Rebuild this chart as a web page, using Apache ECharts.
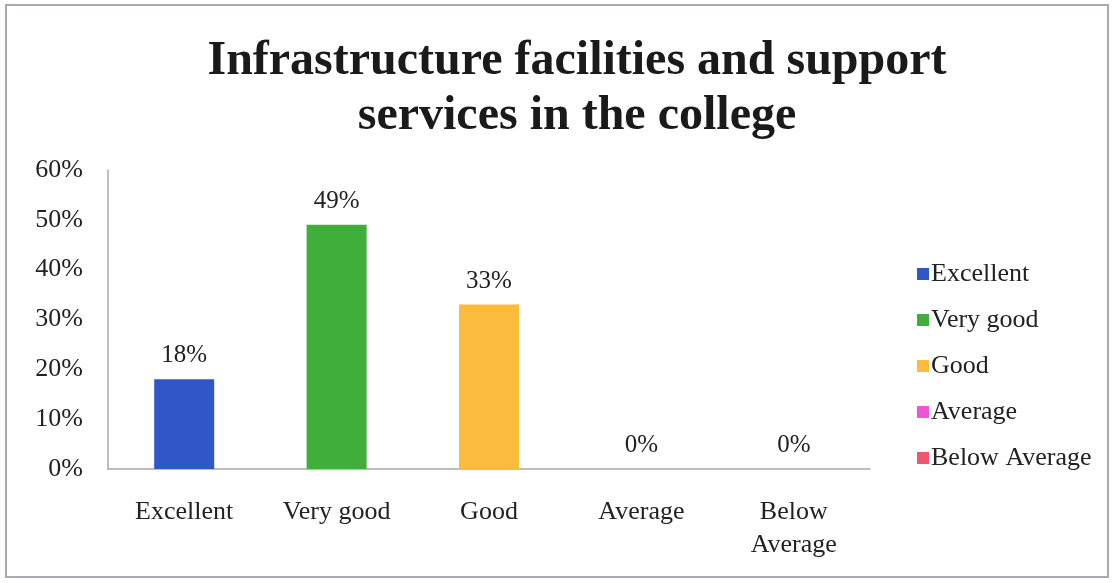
<!DOCTYPE html>
<html>
<head>
<meta charset="utf-8">
<script src="https://cdn.jsdelivr.net/npm/echarts@6/dist/echarts.min.js"></script>
<style>
html,body{margin:0;padding:0;background:#fff;}
#c{width:1112px;height:583px;}
</style>
</head>
<body>
<div id="c"></div>
<script>
const categories = ['Excellent', 'Very good', 'Good', 'Average', 'Below Average'];
const axisLabels = ['Excellent', 'Very good', 'Good', 'Average', 'Below\nAverage'];
const values = [18, 49, 33, 0, 0];
const colors = ['#2f57c8', '#3fae3a', '#fbbb3c', '#f052d8', '#f2566f'];
const yTicks = [0, 10, 20, 30, 40, 50, 60];

const font = '"Liberation Serif", "Times New Roman", serif';
const chart = echarts.init(document.getElementById('c'));

const series = categories.map((name, i) => ({
  name: name,
  type: 'bar',
  stack: 'all',
  barWidth: 60,
  itemStyle: { color: colors[i] },
  data: categories.map((c, j) => j === i ? values[i] : '-'),
  label: {
    show: true,
    position: 'top',
    distance: 11,
    formatter: p => p.value + '%',
    fontFamily: font,
    fontSize: 25,
    color: '#222'
  }
}));

chart.setOption({
  backgroundColor: '#fff',
  animation: false,
  title: {
    text: 'Infrastructure facilities and support\nservices in the college',
    left: 572,
    textAlign: 'center',
    top: 29,
    textStyle: {
      fontFamily: font,
      fontWeight: 'bold',
      fontSize: 48,
      lineHeight: 55,
      color: '#1a1a1a'
    }
  },
  graphic: [{
    type: 'rect',
    shape: { x: 6, y: 5, width: 1102, height: 572 },
    style: { fill: 'none', stroke: '#a9a9b3', lineWidth: 2 },
    silent: true
  }],
  legend: {
    orient: 'vertical',
    left: 912,
    top: 256,
    itemWidth: 12,
    itemHeight: 12,
    itemGap: 20,
    icon: 'rect',
    data: categories,
    textStyle: { fontFamily: font, fontSize: 26, color: '#222', padding: [0, 0, 0, -3] }
  },
  grid: { left: 108, right: 242, top: 170, bottom: 114, containLabel: false },
  xAxis: {
    type: 'category',
    data: axisLabels,
    axisLine: { show: true, lineStyle: { color: '#a8a8ad', width: 1.5 } },
    axisTick: { show: false },
    axisLabel: {
      margin: 27,
      fontFamily: font,
      fontSize: 26,
      lineHeight: 33,
      color: '#222'
    }
  },
  yAxis: {
    type: 'value',
    min: yTicks[0],
    max: yTicks[yTicks.length - 1],
    interval: 10,
    axisLine: { show: true, lineStyle: { color: '#a8a8ad', width: 1.5 } },
    axisTick: { show: false },
    splitLine: { show: false },
    axisLabel: {
      margin: 25,
      fontFamily: font,
      fontSize: 26,
      color: '#222',
      formatter: v => v + '%'
    }
  },
  series: series
});
</script>
</body>
</html>
